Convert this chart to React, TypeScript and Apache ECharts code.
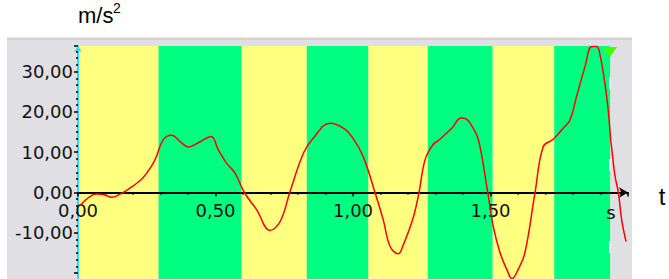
import React, { useEffect, useRef } from "react";
import * as echarts from "echarts";

// time (s) of each sampled point of the curve
const times = [
  0.007, 0.068, 0.098, 0.122, 0.153, 0.183, 0.225, 0.25, 0.28, 0.31, 0.34, 0.377,
  0.4, 0.444, 0.484, 0.51, 0.54, 0.571, 0.605, 0.65, 0.698, 0.735, 0.77, 0.82,
  0.856, 0.916, 0.965, 1.0, 1.037, 1.08, 1.11, 1.135, 1.165, 1.183, 1.22, 1.24,
  1.262, 1.29, 1.316, 1.36, 1.393, 1.413, 1.43, 1.456, 1.49, 1.51, 1.535, 1.56,
  1.578, 1.6, 1.625, 1.662, 1.692, 1.728, 1.765, 1.789, 1.813, 1.844, 1.868, 1.886,
  1.898, 1.916, 1.928, 1.937, 1.94, 1.953, 1.965, 1.977, 1.993,
];
// acceleration (m/s^2)
const accel = [
  -3.3, -0.4, -0.6, -1.2, -0.4, 0.8, 2.9, 4.8, 8.1, 13.1, 14.2, 12.3,
  11.3, 12.6, 13.9, 10.6, 7.3, 4.8, 0, -4.3, -9.4, -7.2, 0, 9.8,
  13.5, 17.2, 16, 13.5, 8.9, 0, -6.8, -13.4, -15.2, -13, -6, 0,
  8.1, 11.8, 13.2, 16, 18.5, 18.2, 16.8, 13.1, 0, -8.4, -15, -19.2,
  -21.4, -19.2, -15, 0, 11.4, 13.2, 16, 18, 23.8, 31.3, 36.2, 36.2,
  34.2, 27.1, 20.5, 13.1, 11.4, 4, 0, -6.8, -12.2,
];
// phase boundaries (s) of the coloured bands
const bandEdges = [0, 0.293, 0.595, 0.832, 1.056, 1.272, 1.508, 1.732, 1.935];
const xTickLabels = [0, 0.5, 1, 1.5];
const yTickLabels = [-10, 0, 10, 20, 30];
const yUnit = "m/s";
const yUnitExp = "2";
const xUnit = "s";
const xName = "t";

const BAND_COLORS = ["#FFFF80", "#00FF80"];

const fmt = (v: number) => v.toFixed(2).replace(".", ",");
const isIn = (list: number[], v: number) => list.some((x) => Math.abs(x - v) < 1e-6);

export default function App() {
  const ref = useRef<HTMLDivElement>(null);
  useEffect(() => {
    if (!ref.current) return;
    const chart = echarts.init(ref.current, null, { renderer: "svg" });
    const bands = [];
    for (let i = 0; i < bandEdges.length - 1; i++) {
      bands.push([
        { xAxis: bandEdges[i], itemStyle: { color: BAND_COLORS[i % 2] } },
        { xAxis: bandEdges[i + 1] },
      ]);
    }
    const labelFont = { fontFamily: "DejaVu Sans", fontSize: 18, color: "#111" };
    chart.setOption({
      animation: false,
      grid: [
        { left: 78, top: 46, width: 550, height: 267.4, containLabel: false, outerBoundsMode: "none" },
        // upper half only: its bottom edge is the zero line, where the time labels sit
        { left: 78, top: 46, width: 550, height: 146.5, containLabel: false, outerBoundsMode: "none" },
      ],
      graphic: [
        { type: "rect", z: -10, shape: { x: 7, y: 37.5, width: 625, height: 260 }, style: { fill: "#D6D2CA" } },
        { type: "rect", z: -9, shape: { x: 7, y: 40, width: 625, height: 260 }, style: { fill: "#E0DFE3" } },
        {
          type: "text", z: 10, x: 78, y: 15,
          style: { text: yUnit, fill: "#000", font: "22px 'Liberation Sans'", align: "left", verticalAlign: "middle", textAlign: "left", textVerticalAlign: "middle" },
        },
        {
          type: "text", z: 10, x: 113, y: 8,
          style: { text: yUnitExp, fill: "#000", font: "14px 'Liberation Sans'", align: "left", verticalAlign: "middle", textAlign: "left", textVerticalAlign: "middle" },
        },
        {
          type: "text", z: 10, x: 611, y: 212,
          style: { text: xUnit, fill: "#111", font: "18px 'DejaVu Sans'", align: "center", verticalAlign: "middle", textAlign: "center", textVerticalAlign: "middle" },
        },
        {
          type: "text", z: 10, x: 662, y: 196,
          style: { text: xName, fill: "#000", font: "24px 'Liberation Sans'", align: "center", verticalAlign: "middle", textAlign: "center", textVerticalAlign: "middle" },
        },
        {
          type: "line", z: 10, shape: { x1: 610, y1: 77, x2: 610, y2: 279 },
          style: { stroke: "#FFFFFF", lineWidth: 2, lineDash: [12, 70] },
        },
        {
          type: "polygon", z: 10, shape: { points: [[603, 47], [617, 47], [610, 57]] },
          style: { fill: "#44FF00" },
        },
      ],
      xAxis: [
        {
          type: "value", gridIndex: 0, min: 0, max: 2, interval: 0.5, z: 3,
          axisLine: { onZero: true, lineStyle: { color: "#000", width: 2 }, symbol: ["none", "arrow"], symbolSize: [8, 9] },
          axisTick: { show: true, length: 4, lineStyle: { color: "#000", width: 1.5 } },
          minorTick: { show: true, splitNumber: 5, length: 2, lineStyle: { color: "#000", width: 2 } },
          splitLine: { show: false },
          axisLabel: { show: false },
        },
        {
          type: "value", gridIndex: 1, min: 0, max: 2, interval: 0.5, z: 3,
          axisLine: { show: false, onZero: false },
          axisTick: { show: false },
          splitLine: { show: false },
          axisLabel: { ...labelFont, margin: 9, formatter: (v: number) => (isIn(xTickLabels, v) ? fmt(v) : "") },
        },
      ],
      yAxis: [
        {
          type: "value", gridIndex: 0, min: -30, max: 36.35, interval: 10, z: 3,
          axisLine: { show: true, onZero: false, lineStyle: { color: "#33D6F5", width: 2 }, symbol: ["none", "arrow"], symbolSize: [6, 6] },
          axisTick: { show: true, length: 4, lineStyle: { color: "#000", width: 1.5 } },
          minorTick: { show: true, splitNumber: 6, length: 2, lineStyle: { color: "#000", width: 1.5 } },
          splitLine: { show: false },
          axisLabel: { ...labelFont, margin: 5, formatter: (v: number) => (isIn(yTickLabels, v) ? fmt(v) : "") },
        },
        {
          type: "value", gridIndex: 1, min: 0, max: 36.35, show: false,
        },
      ],
      series: [
        {
          type: "line", xAxisIndex: 0, yAxisIndex: 0, z: 5, silent: true, symbol: "none", smooth: 0.4,
          data: times.map((t, i) => [t, accel[i]]),
          lineStyle: { color: "#FF0000", width: 1.5 },
          markArea: { silent: true, z: 1, data: bands },
        },
      ],
    });
    return () => chart.dispose();
  }, []);
  return <div ref={ref} style={{ position: "absolute", left: 0, top: 0, width: 669, height: 279 }} />;
}
